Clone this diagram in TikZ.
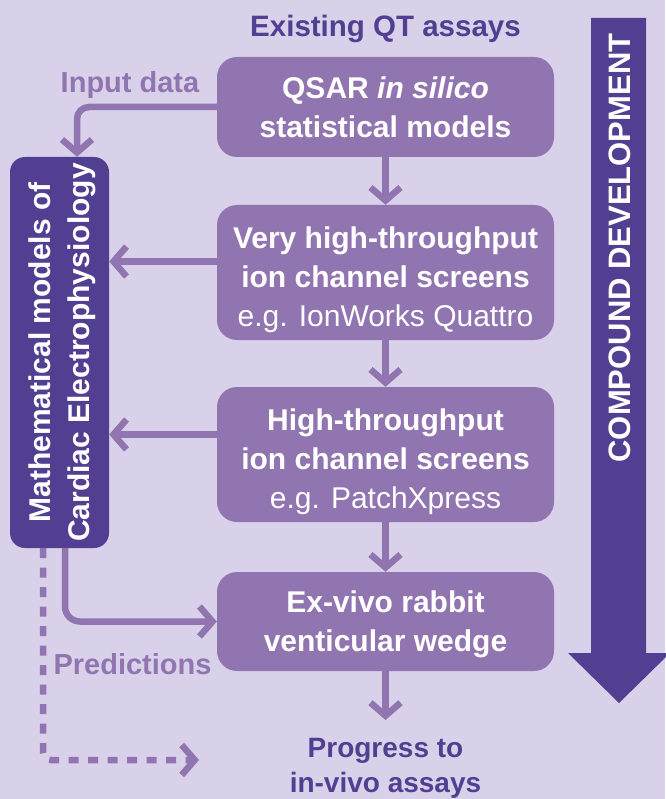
\documentclass[tikz,border=0pt]{standalone}
\usepackage{fontspec}
\setmainfont{Liberation Sans}
\usepackage{tikz}
\usetikzlibrary{arrows.meta}
\definecolor{bgpurple}{HTML}{D9D1E9}
\definecolor{boxpurple}{HTML}{9175B1}
\definecolor{darkpurple}{HTML}{523F92}
\tikzset{>={Straight Barb[length=13pt,width=30pt]}}

\begin{document}
\begin{tikzpicture}[x=1pt, y=-1pt]
  % stages sit on one column, the model box feeds back on the left
  \tikzstyle{every node}=[inner sep=0pt, align=center]
  \tikzstyle{stage}=[rectangle, rounded corners=20pt, fill=boxpurple, text=white, minimum width=337pt,
                     font=\fontsize{30}{39}\selectfont\bfseries, text height=81pt, text depth=19pt]
  \tikzstyle{flow}=[->, draw=boxpurple, line width=6.5pt]
  \tikzstyle{note}=[text=boxpurple, font=\fontsize{29}{35}\selectfont\bfseries]
  \tikzstyle{heading}=[text=darkpurple, font=\fontsize{28}{35}\selectfont\bfseries]

  \fill[bgpurple] (0,0) rectangle (665,799);
  \useasboundingbox (0,0) rectangle (665,799);

  % big arrow on the right
  \fill[darkpurple] (591,18) -- (646,18) -- (646,653) -- (670,653) -- (619,703)
                    -- (568,653) -- (591,653) -- cycle;
  \node (CD) [rotate=90, text=white, font=\fontsize{31}{31}\selectfont\bfseries] at (619.5,248) {COMPOUND DEVELOPMENT};

  \node (T) [heading, anchor=base, font=\fontsize{29.5}{35}\selectfont\bfseries] at (385.5,37) {Existing QT assays};
  \node (Q) [stage] at (385.5,107) {QSAR \textit{in silico}\\statistical models};
  \node (V) [stage, text height=121pt, text depth=14pt] at (385.5,272.5) {Very high-throughput\\ion channel screens\\{\mdseries e.g. IonWorks Quattro}};
  \node (H) [stage, text height=121pt, text depth=14pt] at (385.5,454.5) {High-throughput\\ion channel screens\\{\mdseries e.g. PatchXpress}};
  \node (X) [stage, text height=79pt, text depth=20pt] at (385.5,621.5) {Ex-vivo rabbit\\venticular wedge};
  \node (P) [heading, anchor=north, text height=72pt] at (385.5,720) {Progress to\\in-vivo assays};

  \node (M) [stage, fill=darkpurple, rounded corners=15pt, rotate=90, minimum width=391pt,
             text height=79pt, text depth=20pt] at (59.5,352.5) {Mathematical models of\\Cardiac Electrophysiology};

  \node (ID) [note, anchor=base] at (130,93) {Input data};
  \node (PR) [note, anchor=base] at (132.5,674) {Predictions};
  \coordinate (PE) at (199,760);

  \draw[flow] (Q.south) -- (V.north);
  \draw[flow] (V.south) -- (H.north);
  \draw[flow] (H.south) -- (X.north);
  \draw[flow] (X.south) -- (P.north);

  \draw[flow, rounded corners=12pt] (Q.west) -| ([xshift=17.5pt]M.east);
  \draw[flow] ([yshift=11pt]V.west) -- ([yshift=11pt]V.west -| M.south);
  \draw[flow] ([yshift=20pt]H.west) -- ([yshift=20pt]H.west -| M.south);
  \draw[flow, rounded corners=15pt] ([xshift=5.5pt]M.west) |- (X.west);
  \draw[flow, dash pattern=on 10pt off 9.5pt, rounded corners=8pt] ([xshift=-16.5pt]M.west) |- (PE);

\end{tikzpicture}
\end{document}
